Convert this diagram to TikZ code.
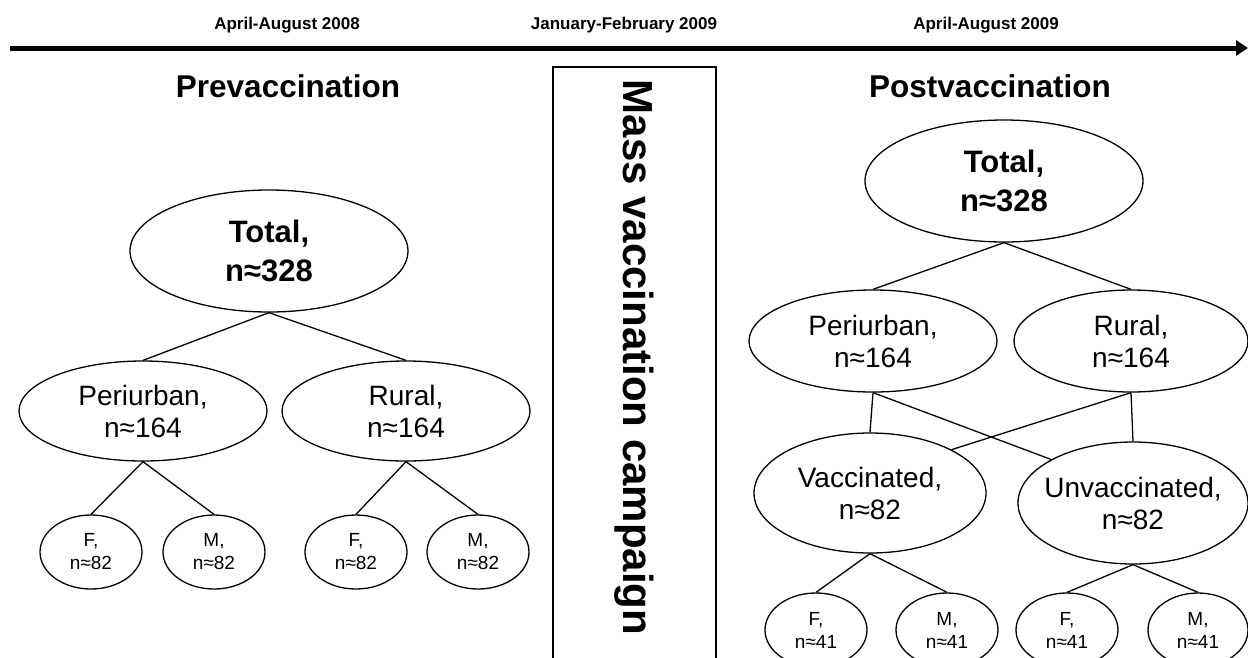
\documentclass[tikz,border=0pt]{standalone}
\usepackage{fontspec}
\setmainfont{Liberation Sans}
\usetikzlibrary{shapes.geometric, arrows.meta}
\newcommand\myell[7]{%
  \node[ell, minimum width=#4pt, minimum height=#5pt] (#1) at (#2,#3) {};
  \node[#6] (#1t) at (#1.center) {#7};
}
\begin{document}
\begin{tikzpicture}[x=1pt,y=-1pt,
  ell/.style={draw, ellipse, line width=1.3pt, inner sep=0pt},
  big/.style={font=\fontsize{31}{39}\selectfont\bfseries, align=center, inner sep=0pt},
  mid/.style={font=\fontsize{28}{32}\selectfont, align=center, inner sep=0pt},
  small/.style={font=\fontsize{19}{23}\selectfont, align=center, inner sep=0pt},
  datelbl/.style={font=\fontsize{17}{17}\selectfont\bfseries, anchor=base, inner sep=0pt},
  titlelbl/.style={font=\fontsize{31.5}{31.5}\selectfont\bfseries, anchor=base, inner sep=0pt},
  conn/.style={line width=1.3pt},
]
\useasboundingbox (0,0) rectangle (1248,657);
% timeline
\coordinate (tl) at (10,48);
\coordinate (tr) at (1248,48);
\draw[line width=5pt, -{Triangle[length=12pt,width=15pt]}] (tl) -- (tr);
\node[datelbl] (d1) at (287,29.5) {April-August 2008};
\node[datelbl] (d2) at (624,29.5) {January-February 2009};
\node[datelbl] (d3) at (986,29.5) {April-August 2009};
% titles
\node[titlelbl] (pre) at (288,97) {Prevaccination};
\node[titlelbl] (post) at (990,97) {Postvaccination};
% campaign box
\node[draw, line width=1.5pt, minimum width=163pt, minimum height=653pt, inner sep=0pt] (box) at (634.5,393.5) {};
\node[rotate=-90, anchor=base, font=\fontsize{42}{42}\selectfont\bfseries, inner sep=0pt] (mvc) at (623,357.5) {Mass vaccination campaign};
% left tree
\myell{lt}{269}{251}{278}{122}{big}{Total,\\n≈328}
\myell{lp}{143}{411}{248}{100}{mid}{Periurban,\\n≈164}
\myell{lr}{406}{411}{248}{100}{mid}{Rural,\\n≈164}
\myell{lpf}{91}{552}{102}{74}{small}{F,\\n≈82}
\myell{lpm}{214}{552}{102}{74}{small}{M,\\n≈82}
\myell{lrf}{356}{552}{102}{74}{small}{F,\\n≈82}
\myell{lrm}{478}{552}{102}{74}{small}{M,\\n≈82}
\draw[conn] (lt.south) -- (lp.north);
\draw[conn] (lt.south) -- (lr.north);
\draw[conn] (lp.south) -- (lpf.north);
\draw[conn] (lp.south) -- (lpm.north);
\draw[conn] (lr.south) -- (lrf.north);
\draw[conn] (lr.south) -- (lrm.north);
% right tree
\myell{rt}{1004}{181}{278}{122}{big}{Total,\\n≈328}
\myell{rp}{873}{341}{248}{102}{mid}{Periurban,\\n≈164}
\myell{rr}{1131}{341}{234}{102}{mid}{Rural,\\n≈164}
\myell{rv}{870}{493}{232}{120}{mid}{Vaccinated,\\n≈82}
\myell{ru}{1133}{503}{230}{122}{mid}{Unvaccinated,\\n≈82}
\myell{rvf}{816}{630}{102}{74}{small}{F,\\n≈41}
\myell{rvm}{947}{630}{102}{74}{small}{M,\\n≈41}
\myell{ruf}{1067}{630}{102}{74}{small}{F,\\n≈41}
\myell{rum}{1198}{630}{100}{74}{small}{M,\\n≈41}
\draw[conn] (rt.south) -- (rp.north);
\draw[conn] (rt.south) -- (rr.north);
\draw[conn] (rp.south) -- (rv.north);
\draw[conn] (rp.south) -- (ru.152);
\draw[conn] (rr.south) -- (rv.28);
\draw[conn] (rr.south) -- (ru.north);
\draw[conn] (rv.south) -- (rvf.north);
\draw[conn] (rv.south) -- (rvm.north);
\draw[conn] (ru.south) -- (ruf.north);
\draw[conn] (ru.south) -- (rum.north);
\end{tikzpicture}
\end{document}
